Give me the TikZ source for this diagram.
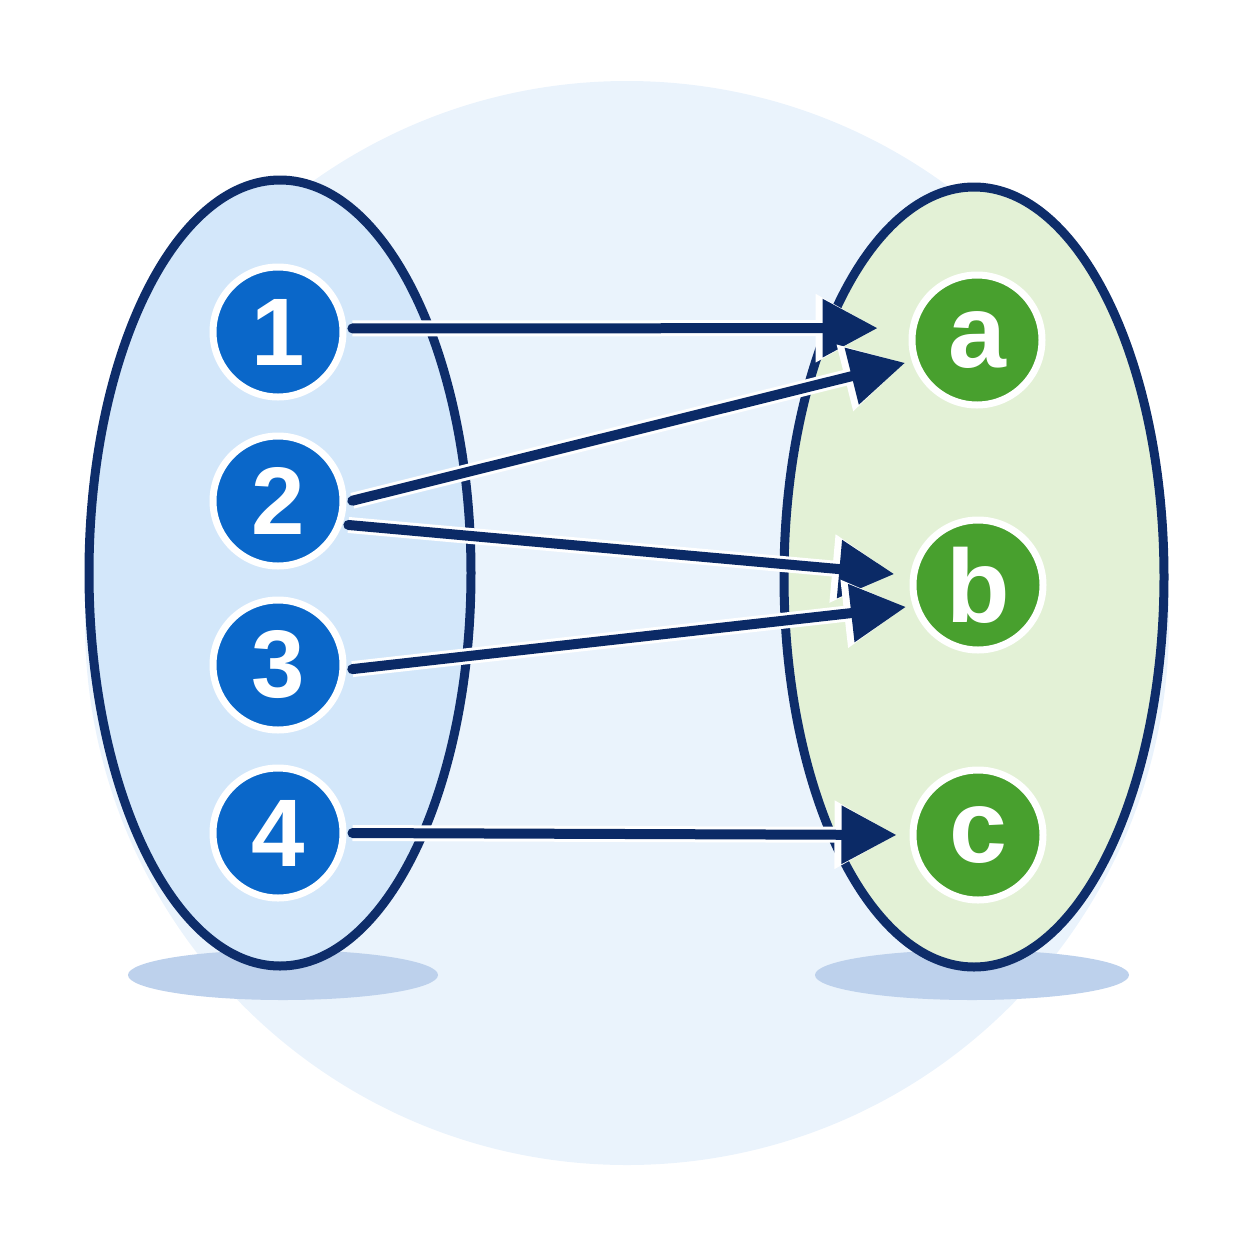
\documentclass[tikz,border=0pt]{standalone}
\usepackage{fontspec}
\setmainfont{Liberation Sans}
\usetikzlibrary{arrows.meta}

\definecolor{bgcirc}{RGB}{234,243,252}
\definecolor{setAfill}{RGB}{211,231,250}
\definecolor{setBfill}{RGB}{227,241,214}
\definecolor{rimnavy}{RGB}{14,45,106}
\definecolor{arrnavy}{RGB}{11,42,102}
\definecolor{dotblue}{RGB}{10,103,201}
\definecolor{dotgreen}{RGB}{72,160,46}
\definecolor{shadowblue}{RGB}{189,209,236}

\tikzset{
  elemA/.style={circle,fill=dotblue,draw=white,line width=3.5pt,minimum size=65pt,inner sep=0pt,
    text=white,font=\fontsize{48}{48}\selectfont\bfseries},
  elemB/.style={elemA,fill=dotgreen,font=\fontsize{52}{52}\selectfont\bfseries},
  maparrow/.style={draw=arrnavy,line width=5pt,line cap=round,shorten <=3pt,
    -{Triangle[length=27.5pt,width=28pt]},
    preaction={draw=white,line width=8pt,-{Triangle[length=31pt,width=32pt]}}}
}

\begin{document}
\begin{tikzpicture}[x=0.5pt,y=-0.5pt]
\useasboundingbox (0,0) rectangle (1254,1254);

%Shape: backdrop disc
\fill [bgcirc] (627,623) circle [radius=542];

%Shape: shadows under the sets
\fill [shadowblue] (283,975) ellipse [x radius=155, y radius=25];
\fill [shadowblue] (972,975) ellipse [x radius=157, y radius=25];

%Shape: domain and codomain
\draw [rimnavy,line width=4.5pt,fill=setAfill] (280,573) ellipse [x radius=191, y radius=393];
\draw [rimnavy,line width=4.5pt,fill=setBfill] (974,577) ellipse [x radius=190, y radius=390];

% Domain elements
\node [elemA] (n1) at (278,332) {1};
\node [elemA] (n2) at (278,501) {2};
\node [elemA] (n3) at (278,665) {3};
\node [elemA] (n4) at (278,833) {4};

% Codomain elements
\node [elemB] (na) at (977,340) {a};
\node [elemB] (nb) at (978,585) {b};
\node [elemB] (nc) at (978,835) {c};

% Mapping arrows
\draw [maparrow,shorten >=16pt] (n1.3) -- (na.170);
\draw [maparrow,shorten >=3.5pt] (n2.-1) -- (na.198);
\draw [maparrow,shorten >=8pt] (n2.-20) -- (nb.172);
\draw [maparrow,shorten >=3.5pt] (n3.-4) -- (nb.198);
\draw [maparrow,shorten >=6.5pt] (n4.0) -- (nc.180);

\end{tikzpicture}
\end{document}
